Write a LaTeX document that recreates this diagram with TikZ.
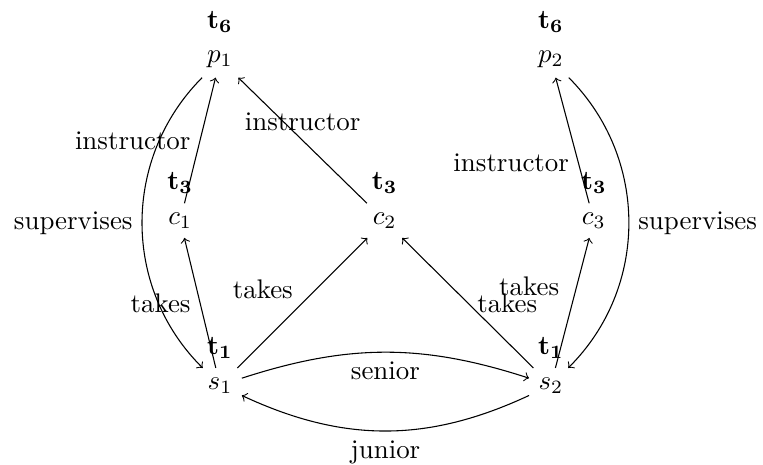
\documentclass[tikz,border=0pt]{standalone}
\usepackage{amsmath}
\usepackage{tikz}
\tikzset{
  entity/.style={inner sep=3.33pt},
  arrow/.style={->},
  rel/.style={inner sep=3.33pt}
}
\begin{document}
\begin{tikzpicture}
  \useasboundingbox (-2.872,-1.04) rectangle (7.089,5.03);
  % entities with their time labels
  \node[entity, label=above:$\mathbf{t_6}$] (p1) at (0,4.25) {$p_1$};
  \node[entity, label=above:$\mathbf{t_6}$] (p2) at (4.32,4.25) {$p_2$};
  \node[entity, label=above:$\mathbf{t_3}$] (c1) at (-0.52,2.15) {$c_1$};
  \node[entity, label=above:$\mathbf{t_3}$] (c2) at (2.15,2.15) {$c_2$};
  \node[entity, label=above:$\mathbf{t_3}$] (c3) at (4.88,2.15) {$c_3$};
  \node[entity, label=above:$\mathbf{t_1}$] (s1) at (0,0) {$s_1$};
  \node[entity, label=above:$\mathbf{t_1}$] (s2) at (4.32,0) {$s_2$};
  % relations
  \draw[arrow] (c1) -- node[rel, midway, left] {instructor} (p1);
  \draw[arrow] (c2) -- node[rel, midway, above] {instructor} (p1);
  \draw[arrow] (c3) -- node[rel, pos=0.32, left] {instructor} (p2);
  \draw[arrow] (p1) to[bend right=45] node[rel, midway, left] {supervises} (s1);
  \draw[arrow] (p2) to[bend left=45] node[rel, midway, right] {supervises} (s2);
  \draw[arrow] (s1) -- node[rel, midway, left] {takes} (c1);
  \draw[arrow] (s1) -- node[rel, midway, above left, yshift=-2pt] {takes} (c2);
  \draw[arrow] (s2) -- node[rel, midway, right] {takes} (c2);
  \draw[arrow] (s2) -- node[rel, pos=0.63, left, xshift=-3pt] {takes} (c3);
  \draw[arrow] (s1) to[bend left=18] node[rel, midway, below] {senior} (s2);
  \draw[arrow] (s2) to[bend left=25] node[rel, midway, below] {junior} (s1);
\end{tikzpicture}
\end{document}
